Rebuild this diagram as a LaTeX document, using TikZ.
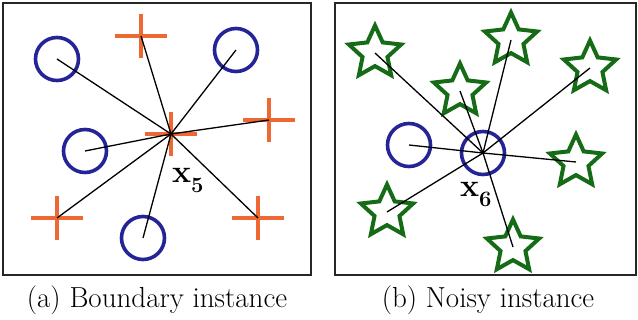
\documentclass[tikz,border=0pt]{standalone}
\usepackage{fontspec}
\usetikzlibrary{shapes.geometric}

\definecolor{circblue}{RGB}{36,36,150}
\definecolor{plusorange}{RGB}{238,104,52}
\definecolor{stargreen}{RGB}{22,108,22}

\newcommand{\instlabel}[1]{\textbf{x}\raisebox{-10pt}{\fontsize{22}{22}\selectfont\textbf{#1}}}

\begin{document}
\begin{tikzpicture}[
    x=1pt, y=-1pt,
    frame/.style={draw=black!85, line width=2pt},
    link/.style={line width=1.3pt},
    circ/.style={circle, draw=circblue, line width=3.6pt, minimum size=43pt, inner sep=0pt},
    starnode/.style={star, star points=5, star point ratio=2.1, draw=stargreen, fill=white, line width=4pt, minimum size=55pt, inner sep=0pt},
    cross/.style={draw=plusorange, line width=4pt},
    plus/.pic={\draw[cross] (-26,0) -- (26,0) (0,-22) -- (0,22);},
    label/.style={font=\fontsize{32}{32}\selectfont},
    caption/.style={font=\fontsize{29}{32}\selectfont}
]
    \useasboundingbox (0,0) rectangle (638,320);

    % Frames
    \draw[frame] (3,3) rectangle (311,275);
    \draw[frame] (335,3) rectangle (636,275);

    % (a) Boundary instance
    \node[circ] (o1) at (57,59) {};
    \node[circ] (o2) at (236,50) {};
    \node[circ] (o3) at (85,151) {};
    \node[circ] (o4) at (143,238) {};
    \coordinate (c5) at (171,134);
    \coordinate (p1) at (141,36);
    \coordinate (p2) at (269,120);
    \coordinate (p3) at (57,218);
    \coordinate (p4) at (258,218);
    \foreach \p in {c5,p1,p2,p3,p4}
        \pic at (\p) {plus};
    \foreach \n in {o1,o2,o3,o4}
        \draw[link] (c5) -- (\n.center);
    \foreach \n in {p1,p2,p3,p4}
        \draw[link] (c5) -- (\n);
    \node[label, anchor=base west, inner sep=0pt] (x5) at (172,183) {\instlabel{5}};

    % (b) Noisy instance
    \node[circ] (o5) at (409,145) {};
    \node[circ] (c6) at (483,153) {};
    \node[starnode] (s1) at (375,53) {};
    \node[starnode] (s2) at (460,91) {};
    \node[starnode] (s3) at (511,40) {};
    \node[starnode] (s4) at (590,68) {};
    \node[starnode] (s5) at (576,162) {};
    \node[starnode] (s6) at (387,212) {};
    \node[starnode] (s7) at (513,247) {};
    \foreach \n in {o5,s1,s2,s3,s4,s5,s6,s7}
        \draw[link] (c6.center) -- (\n.center);
    \node[label, anchor=base west, inner sep=0pt] (x6) at (460,197) {\instlabel{6}};

    % Captions
    \node[caption] (capa) at (157,300) {(a) Boundary instance};
    \node[caption] (capb) at (488,300) {(b) Noisy instance};
\end{tikzpicture}
\end{document}
